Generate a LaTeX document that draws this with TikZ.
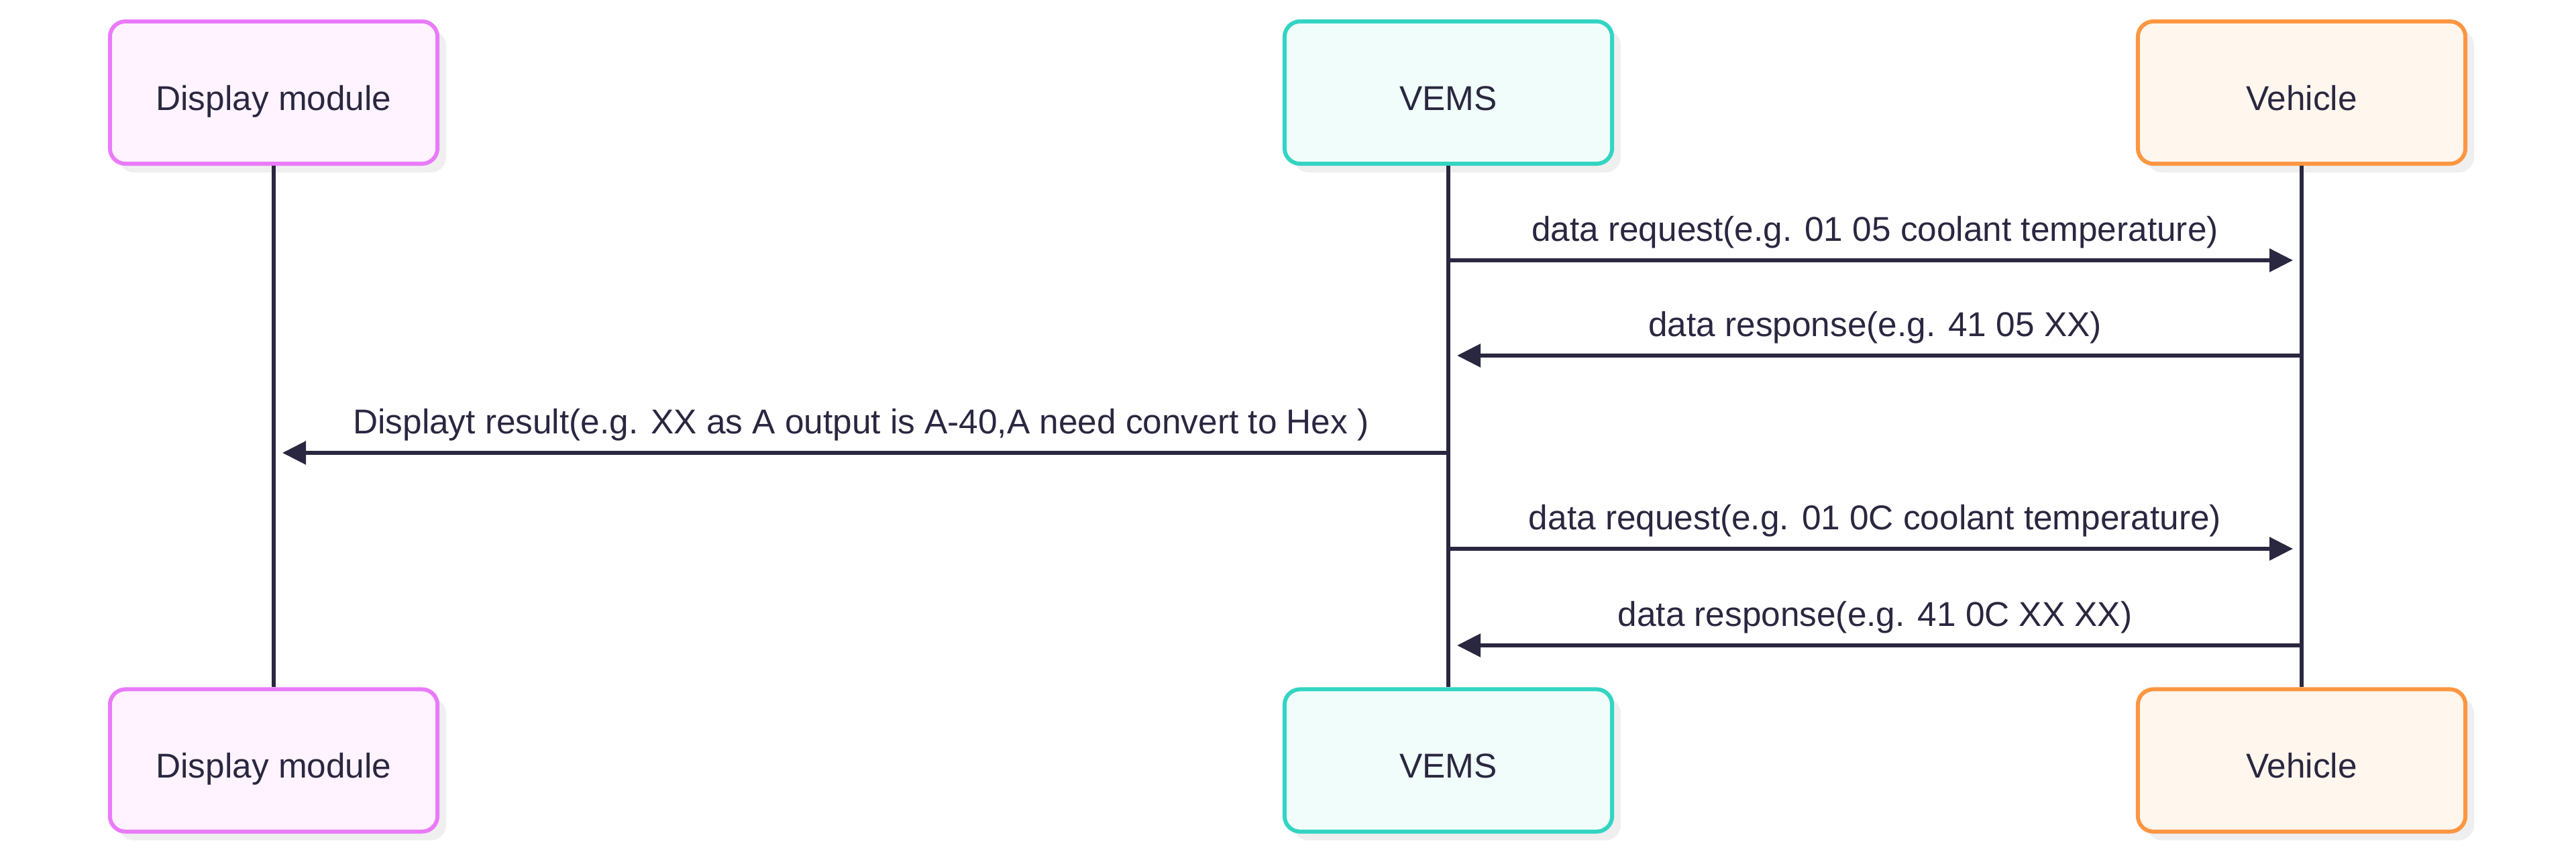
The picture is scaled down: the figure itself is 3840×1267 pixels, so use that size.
\documentclass[tikz,border=0pt]{standalone}
\usepackage{fontspec}
\setmainfont{Liberation Sans}
\usetikzlibrary{arrows.meta,shadows}
\definecolor{ink}{HTML}{2A2740}
\definecolor{pinkline}{HTML}{E97BF9}
\definecolor{pinkfill}{HTML}{FEF3FF}
\definecolor{tealline}{HTML}{33D4C2}
\definecolor{tealfill}{HTML}{F0FDFA}
\definecolor{orangeline}{HTML}{FD9641}
\definecolor{orangefill}{HTML}{FFF6EE}
\definecolor{shade}{HTML}{EFEFEF}

\begin{document}
\begin{tikzpicture}[x=0.01cm,y=-0.01cm,
    actor/.style={draw,line width=1.7pt,rounded corners=0.23cm,minimum width=4.88cm,minimum height=2.12cm,
        text=ink,font=\fontsize{14.6}{17}\selectfont,text height=0.52cm,text depth=0pt,
        drop shadow={shadow xshift=0.13cm,shadow yshift=-0.13cm,fill=shade,opacity=1}},
    lifeline/.style={ink,line width=1.7pt},
    msg/.style={ink,line width=1.6pt,-{Triangle[length=0.35cm,width=0.34cm]},shorten >=0.13cm},
    lbl/.style={text=ink,font=\fontsize{14.6}{17}\selectfont,anchor=base,yshift=0.28cm}]
    \useasboundingbox (0,0) rectangle (3840,1267);

    % participants, top and bottom
    \node[actor,draw=pinkline,fill=pinkfill] (disp) at (408,138) {Display module};
    \node[actor,draw=tealline,fill=tealfill] (vems) at (2159,138) {VEMS};
    \node[actor,draw=orangeline,fill=orangefill] (veh) at (3431,138) {Vehicle};
    \node[actor,draw=pinkline,fill=pinkfill] (dispB) at (408,1133.5) {Display module};
    \node[actor,draw=tealline,fill=tealfill] (vemsB) at (2159,1133.5) {VEMS};
    \node[actor,draw=orangeline,fill=orangefill] (vehB) at (3431,1133.5) {Vehicle};

    \draw[lifeline] (disp) -- (dispB);
    \draw[lifeline] (vems) -- (vemsB);
    \draw[lifeline] (veh) -- (vehB);

    % messages
    \draw[msg] (vems |- 0,388) -- (veh |- 0,388) node[lbl,midway]{data request(e.g. 01 05 coolant temperature)};
    \draw[msg] (veh |- 0,530) -- (vems |- 0,530) node[lbl,midway]{data response(e.g. 41 05 XX)};
    \draw[msg] (vems |- 0,675) -- (disp |- 0,675) node[lbl,midway]{Displayt result(e.g. XX as A output is A-40,A need convert to Hex )};
    \draw[msg] (vems |- 0,818) -- (veh |- 0,818) node[lbl,midway]{data request(e.g. 01 0C coolant temperature)};
    \draw[msg] (veh |- 0,962) -- (vems |- 0,962) node[lbl,midway]{data response(e.g. 41 0C XX XX)};
\end{tikzpicture}
\end{document}
